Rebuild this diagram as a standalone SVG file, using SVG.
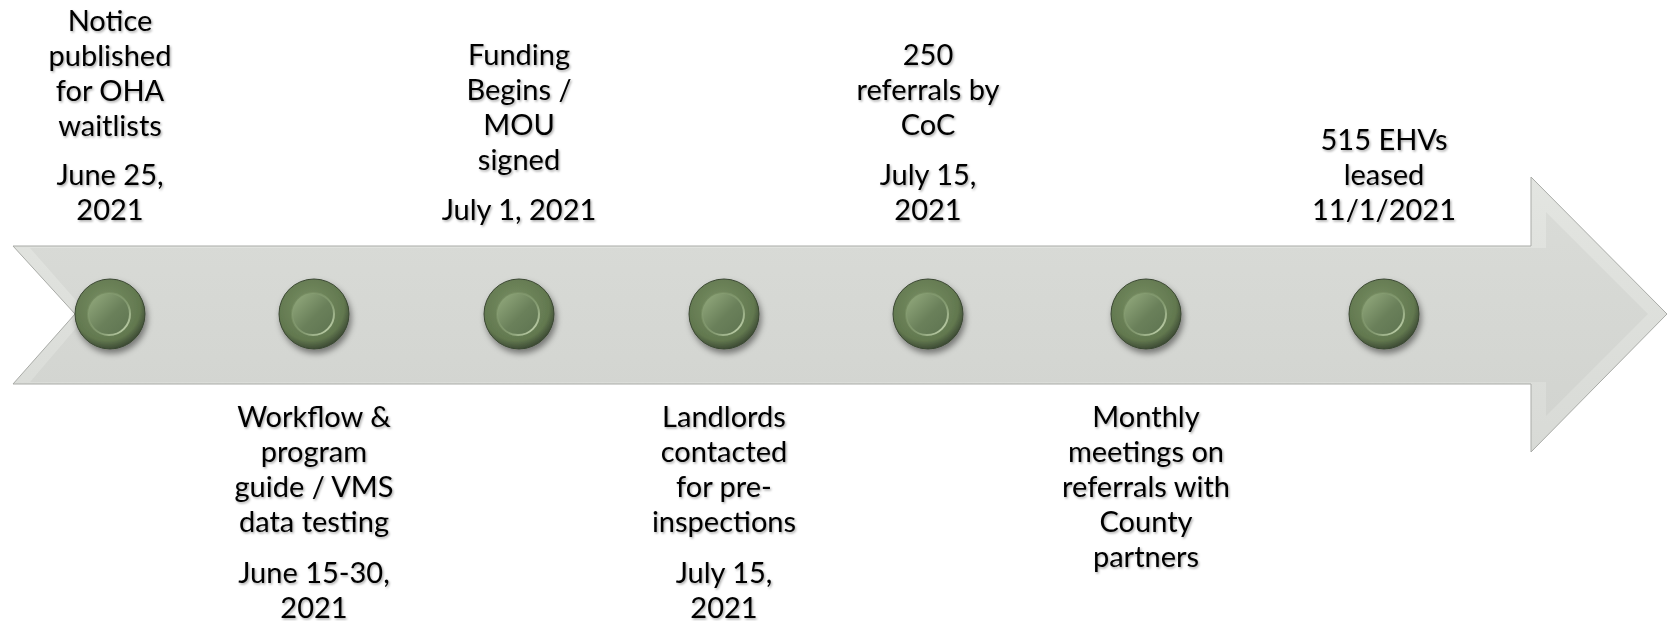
<svg xmlns="http://www.w3.org/2000/svg" width="1671" height="621" viewBox="0 0 1671 621">
  <style>
    .t { font-family: Lato, "Liberation Sans", sans-serif; font-size: 29px; fill: #000; text-anchor: middle; filter: url(#ts); }
  </style>
  <defs>
    <filter id="ts" x="-10%" y="-30%" width="120%" height="160%">
      <feDropShadow dx="1.2" dy="1.5" stdDeviation="1" flood-color="#000" flood-opacity="0.35"/>
    </filter>
    <filter id="ds" x="-30%" y="-30%" width="170%" height="170%">
      <feDropShadow dx="2" dy="4" stdDeviation="3" flood-color="#000" flood-opacity="0.45"/>
    </filter>
    <linearGradient id="bandOuter" x1="0" y1="0" x2="0" y2="1">
      <stop offset="0" stop-color="#e3e5e1"/>
      <stop offset="1" stop-color="#d8dad6"/>
    </linearGradient>
    <linearGradient id="bandInner" x1="0" y1="0" x2="0" y2="1">
      <stop offset="0" stop-color="#d9dbd7"/>
      <stop offset="1" stop-color="#d2d4d0"/>
    </linearGradient>
    <radialGradient id="outerG" cx="0.45" cy="0.4" r="0.6">
      <stop offset="0" stop-color="#7a9166"/>
      <stop offset="0.8" stop-color="#62784f"/>
      <stop offset="1" stop-color="#3e4c35"/>
    </radialGradient>
    <linearGradient id="innerG" x1="0" y1="0" x2="1" y2="1">
      <stop offset="0" stop-color="#96ad80"/>
      <stop offset="0.55" stop-color="#6a805a"/>
      <stop offset="1" stop-color="#5d7350"/>
    </linearGradient>
    <linearGradient id="innerRim" x1="0" y1="0" x2="1" y2="1">
      <stop offset="0" stop-color="#7f9669" stop-opacity="0.2"/>
      <stop offset="0.6" stop-color="#9fb68a" stop-opacity="0.5"/>
      <stop offset="1" stop-color="#dbe9c6"/>
    </linearGradient>
    <g id="dot">
      <circle r="35" fill="url(#outerG)" stroke="#3a4732" stroke-width="1" filter="url(#ds)"/>
      <circle cx="-1" cy="0" r="21" fill="url(#innerG)" stroke="url(#innerRim)" stroke-width="2"/>
    </g>
  </defs>

  <g id="connectors">
    <polygon points="13,246 1531,246 1531,177 1667,314 1531,452 1531,384 13,384 75,314" fill="url(#bandOuter)" stroke="#a9aba7" stroke-width="1"/>
    <polygon points="30,248 1546,248 1546,212 1648,314 1546,416 1546,382 30,382 88,314" fill="url(#bandInner)"/>
  </g>

  <g id="node1">
    <use href="#dot" x="110" y="314"/>
    <text class="t" x="110"><tspan x="110" y="31">Notice</tspan><tspan x="110" y="66">published</tspan><tspan x="110" y="101">for OHA</tspan><tspan x="110" y="136">waitlists</tspan><tspan x="110" y="185">June 25,</tspan><tspan x="110" y="220">2021</tspan></text>
  </g>
  <g id="node2">
    <use href="#dot" x="314" y="314"/>
    <text class="t"><tspan x="314" y="427">Workflow &amp;</tspan><tspan x="314" y="462">program</tspan><tspan x="314" y="497">guide / VMS</tspan><tspan x="314" y="532">data testing</tspan><tspan x="314" y="583">June 15-30,</tspan><tspan x="314" y="618">2021</tspan></text>
  </g>
  <g id="node3">
    <use href="#dot" x="519" y="314"/>
    <text class="t"><tspan x="519" y="65">Funding</tspan><tspan x="519" y="100">Begins /</tspan><tspan x="519" y="135">MOU</tspan><tspan x="519" y="170">signed</tspan><tspan x="519" y="220">July 1, 2021</tspan></text>
  </g>
  <g id="node4">
    <use href="#dot" x="724" y="314"/>
    <text class="t"><tspan x="724" y="427">Landlords</tspan><tspan x="724" y="462">contacted</tspan><tspan x="724" y="497">for pre-</tspan><tspan x="724" y="532">inspections</tspan><tspan x="724" y="583">July 15,</tspan><tspan x="724" y="618">2021</tspan></text>
  </g>
  <g id="node5">
    <use href="#dot" x="928" y="314"/>
    <text class="t"><tspan x="928" y="65">250</tspan><tspan x="928" y="100">referrals by</tspan><tspan x="928" y="135">CoC</tspan><tspan x="928" y="185">July 15,</tspan><tspan x="928" y="220">2021</tspan></text>
  </g>
  <g id="node6">
    <use href="#dot" x="1146" y="314"/>
    <text class="t"><tspan x="1146" y="427">Monthly</tspan><tspan x="1146" y="462">meetings on</tspan><tspan x="1146" y="497">referrals with</tspan><tspan x="1146" y="532">County</tspan><tspan x="1146" y="567">partners</tspan></text>
  </g>
  <g id="node7">
    <use href="#dot" x="1384" y="314"/>
    <text class="t"><tspan x="1384" y="150">515 EHVs</tspan><tspan x="1384" y="185">leased</tspan><tspan x="1384" y="220">11/1/2021</tspan></text>
  </g>
</svg>
